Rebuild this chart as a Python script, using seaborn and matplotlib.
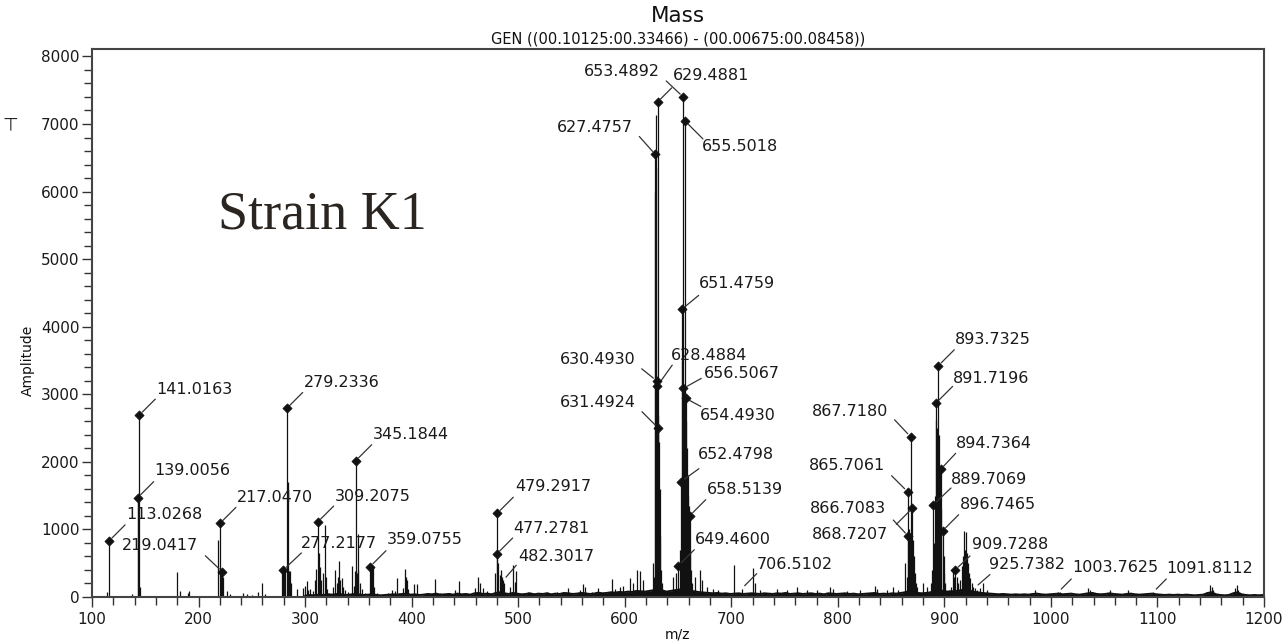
import matplotlib
matplotlib.use("Agg")
import matplotlib.pyplot as plt
from matplotlib.ticker import MultipleLocator
import numpy as np
import pandas as pd
import seaborn as sns

# ---------------- data ----------------
# annotated peaks: label text, axis position (m/z axis), amplitude, marker shown
label_text = ["113.0268", "139.0056", "141.0163", "217.0470", "219.0417", "277.2177",
              "279.2336", "309.2075", "345.1844", "359.0755", "477.2781", "479.2917",
              "482.3017", "627.4757", "653.4892", "630.4930", "628.4884", "631.4924",
              "649.4600", "652.4798", "651.4759", "629.4881", "656.5067", "655.5018",
              "654.4930", "658.5139", "706.5102", "865.7061", "868.7207", "867.7180",
              "866.7083", "889.7069", "891.7196", "893.7325", "894.7364", "896.7465",
              "909.7288", "925.7382", "1003.7625", "1091.8112"]
label_mz = [116.0, 142.9, 144.4, 220.1, 222.3, 279.6,
            282.7, 311.8, 347.5, 360.9, 479.8, 480.4,
            486.0, 628.7, 630.9, 630.0, 630.5, 631.2,
            650.3, 652.7, 653.4, 654.9, 654.9, 656.5,
            657.3, 661.0, 709.8, 865.5, 866.1, 868.3,
            869.9, 889.3, 891.8, 894.3, 896.5, 898.4,
            910.0, 928.7, 1006.9, 1096.1]
label_h = [830, 1470, 2692, 1090, 374, 400,
           2790, 1109, 2017, 448, 636, 1240,
           247, 6549, 7327, 3200, 3121, 2505,
           463, 1706, 4256, 7400, 3087, 7046,
           2939, 1203, 124, 1558, 902, 2371,
           1312, 1361, 2865, 3422, 1889, 981,
           400, 139, 74, 74]
label_marked = [True] * 12 + [False] + [True] * 13 + [False] + [True] * 10 + [False] * 3

# other (unlabelled) peaks
peak_mz = [113.8, 137.3, 143.5, 145.3, 179.5, 182.6, 189.8, 190.6, 218.0, 221.2, 223.0, 226.4,
           229.5, 242.0, 245.2, 249.9, 256.1, 259.2, 262.4, 278.2, 280.5, 281.4, 283.5, 284.2,
           285.0, 286.0, 287.0, 292.1, 298.3, 299.9, 301.5, 303.0, 304.6, 307.7, 309.5, 310.5,
           312.8, 314.0, 315.0, 317.1, 318.7, 319.6, 321.0, 326.0, 328.0, 329.6, 331.0, 331.8,
           333.0, 334.3, 335.5, 337.4, 340.0, 343.7, 345.9, 346.8, 348.5, 349.5, 350.0, 351.5,
           353.0, 356.0, 361.8, 362.5, 364.0, 365.0, 367.2, 378.2, 381.3, 384.4, 386.0, 388.0,
           392.3, 393.8, 394.6, 395.4, 397.0, 402.2, 404.7, 421.9, 426.6, 436.0, 440.7, 444.8,
           459.5, 462.7, 464.1, 467.3, 471.0, 478.5, 481.5, 482.5, 483.5, 484.5, 487.0, 492.3,
           495.4, 497.0, 497.9, 509.5, 514.2, 526.7, 536.1, 547.1, 558.0, 560.5, 562.7, 568.9,
           575.1, 587.7, 590.9, 595.6, 598.7, 605.0, 608.0, 611.8, 614.3, 617.5, 626.9, 627.8,
           628.2, 629.2, 629.6, 631.6, 632.2, 632.8, 633.5, 634.2, 635.0, 645.6, 648.1, 651.9,
           653.9, 654.4, 655.5, 656.0, 657.8, 658.4, 659.0, 659.6, 660.2, 661.7, 662.5, 663.5,
           666.0, 670.7, 672.3, 677.0, 683.2, 687.9, 703.0, 720.6, 722.2, 726.9, 742.6, 752.0,
           761.4, 770.8, 780.2, 792.6, 795.8, 808.3, 820.8, 834.9, 836.5, 845.8, 852.0, 856.8,
           863.1, 864.5, 866.8, 867.5, 869.0, 870.6, 871.3, 872.0, 873.0, 874.0, 880.2, 883.3,
           887.5, 888.5, 890.2, 891.0, 892.5, 893.2, 895.0, 895.8, 897.3, 899.2, 900.1, 901.0,
           904.0, 906.5, 908.4, 909.3, 911.6, 913.0, 914.6, 916.3, 917.5, 918.4, 919.3, 920.3,
           921.5, 922.5, 923.5, 924.5, 925.5, 927.0, 931.0, 933.4, 936.5, 939.6, 985.0, 1008.5,
           1035.0, 1037.0, 1055.4, 1072.6, 1089.8, 1149.3, 1150.8, 1152.0, 1172.7, 1174.3, 1176.0]
peak_h = [70, 40, 1400, 150, 375, 85, 60, 85, 840, 380, 300, 84,
          50, 60, 45, 30, 80, 213, 50, 380, 450, 420, 420, 1700,
          380, 380, 200, 120, 130, 160, 230, 100, 120, 90, 250, 420,
          650, 440, 250, 350, 1060, 300, 120, 150, 395, 200, 300, 540,
          250, 280, 150, 100, 80, 460, 170, 380, 360, 400, 930, 212,
          120, 60, 440, 420, 440, 150, 60, 60, 100, 90, 280, 60,
          130, 415, 300, 250, 120, 190, 190, 265, 60, 60, 100, 230,
          130, 300, 200, 130, 90, 350, 500, 330, 400, 300, 200, 150,
          480, 220, 380, 80, 60, 70, 70, 135, 100, 190, 150, 80,
          130, 265, 120, 150, 160, 280, 200, 405, 380, 250, 500, 300,
          6000, 7130, 6357, 2700, 2300, 1600, 900, 400, 200, 300, 350, 700,
          3500, 3000, 3087, 3000, 2600, 2200, 1800, 1500, 1350, 700, 400, 200,
          290, 400, 250, 150, 120, 100, 470, 430, 200, 100, 120, 110,
          150, 100, 110, 150, 120, 90, 110, 160, 120, 100, 150, 100,
          500, 300, 1000, 950, 900, 850, 600, 350, 200, 150, 207, 150,
          200, 400, 800, 1500, 2620, 2500, 2400, 1930, 1300, 600, 350, 200,
          100, 150, 400, 300, 300, 200, 250, 455, 600, 972, 700, 960,
          650, 500, 350, 280, 200, 150, 100, 130, 210, 100, 100, 80,
          133, 100, 110, 110, 60, 173, 150, 100, 140, 173, 100]

# baseline noise profile
noise_mz = [300, 304, 308, 313, 317, 322, 326, 330, 334, 338, 342, 346, 350, 355, 359, 363,
            367, 371, 375, 379, 383, 387, 391, 395, 399, 403, 407, 411, 415, 419, 423, 427,
            431, 435, 439, 443, 447, 451, 455, 459, 463, 467, 471, 475, 479, 483, 487, 491,
            495, 499, 503, 507, 511, 515, 519, 523, 527, 531, 535, 539, 543, 547, 551, 555,
            559, 563, 567, 571, 575, 579, 583, 587, 591, 595, 599, 603, 607, 611, 615, 619,
            623, 627, 631, 635, 639, 643, 647, 651, 655, 659, 663, 667, 671, 675, 679, 683,
            687, 691, 695, 699, 703, 707, 711, 715, 719, 723, 727, 731, 735, 739, 743, 747,
            751, 755, 759, 763, 767, 771, 775, 779, 783, 787, 791, 795, 799, 803, 807, 811,
            815, 819, 823, 827, 831, 835, 839, 843, 847, 851, 855, 859, 863, 867, 871, 875,
            879, 883, 887, 891, 895, 899, 903, 907, 911, 915, 919, 923, 927, 931, 935, 939,
            943, 947, 951, 955, 959, 963, 967, 971, 975, 979, 983, 987, 991, 995, 999, 1003,
            1007, 1011, 1015, 1019, 1023, 1027, 1031, 1035, 1039, 1043, 1047, 1051, 1055, 1059, 1063, 1067,
            1071, 1075, 1079, 1083, 1087, 1091, 1095, 1099, 1103, 1107, 1111, 1115, 1119, 1123, 1127, 1131,
            1135, 1139, 1143, 1147, 1151, 1155, 1159, 1163, 1167, 1171, 1175, 1179, 1183, 1187, 1191, 1195,
            1199]
noise_h = [20, 30, 25, 35, 30, 40, 35, 45, 40, 30, 35, 45, 40, 30, 35, 40,
           30, 25, 30, 35, 40, 35, 45, 50, 35, 40, 30, 35, 45, 40, 50, 35,
           40, 45, 35, 50, 40, 45, 35, 55, 60, 45, 50, 40, 60, 70, 55, 45,
           60, 50, 40, 45, 55, 40, 50, 45, 55, 40, 50, 45, 60, 55, 45, 50,
           60, 55, 45, 50, 65, 55, 60, 70, 65, 75, 70, 80, 75, 90, 85, 80,
           90, 100, 110, 100, 80, 90, 100, 110, 120, 110, 90, 80, 70, 65, 60, 55,
           60, 50, 55, 45, 50, 55, 45, 50, 55, 50, 45, 55, 50, 45, 55, 50,
           60, 45, 50, 55, 45, 50, 55, 45, 50, 40, 55, 50, 45, 50, 55, 45,
           50, 40, 45, 50, 55, 60, 45, 50, 45, 55, 50, 60, 70, 90, 80, 60,
           55, 60, 70, 90, 100, 90, 80, 85, 90, 100, 110, 100, 80, 70, 60, 55,
           50, 45, 40, 45, 40, 35, 40, 35, 40, 35, 45, 50, 40, 35, 40, 45,
           50, 40, 45, 50, 40, 35, 45, 55, 60, 45, 40, 45, 55, 45, 40, 35,
           45, 50, 40, 35, 40, 45, 50, 40, 35, 30, 35, 30, 35, 30, 35, 30,
           25, 30, 35, 60, 70, 40, 30, 25, 30, 55, 70, 40, 30, 25, 30, 25,
           30]

title = "Mass"
subtitle = "GEN ((00.10125:00.33466) - (00.00675:00.08458))"

# ---------------- layout (pixel offsets of leader end / text) ----------------
default_layout = (16, 16, 17, 26, "left")
layout = {
    "139.0056": (16, 16, 17, 27, "left"),
    "219.0417": (-17, 16, -24, 26, "right"),
    "277.2177": (18, 17, 18, 26, "left"),
    "359.0755": (16, 16, 17, 27, "left"),
    "479.2917": (16, 16, 18, 27, "left"),
    "482.3017": (13, 15, 15, 24, "left"),
    "627.4757": (-16, 18, -22, 27, "right"),
    "653.4892": (14, 14, 2, 30, "right"),
    "629.4881": (-17, 16, -10, 21, "left"),
    "655.5018": (18, -18, 17, -26, "left"),
    "630.4930": (-15, 12, -21, 21, "right"),
    "628.4884": (15, 21, 14, 31, "left"),
    "656.5067": (18, 10, 21, 15, "left"),
    "654.4930": (15, -8, 14, -17, "left"),
    "631.4924": (-16, 16, -22, 25, "right"),
    "651.4759": (17, 14, 17, 26, "left"),
    "652.4798": (18, 13, 17, 27, "left"),
    "706.5102": (15, 15, 15, 24, "left"),
    "867.7180": (-16, 17, -22, 25, "right"),
    "865.7061": (-16, 16, -22, 26, "right"),
    "866.7083": (-16, -16, -26, 0, "right"),
    "868.7207": (-15, 16, -20, 2, "right"),
    "891.7196": (17, 17, 17, 25, "left"),
    "894.7364": (15, 16, 15, 26, "left"),
    "889.7069": (18, 17, 18, 26, "left"),
    "909.7288": (15, 14, 17, 25, "left"),
    "925.7382": (15, 13, 14, 23, "left"),
    "1003.7625": (13, 13, 14, 24, "left"),
    "1091.8112": (13, 13, 13, 23, "left"),
}

# ---------------- drawing ----------------
sns.set_style("ticks")
plt.rcParams["font.family"] = ["DejaVu Sans"]

W, H = 1286, 644
fig = plt.figure(figsize=(W / 100, H / 100), dpi=100)
ax = fig.add_axes([92 / W, 1 - 597 / H, (1264 - 92) / W, (597 - 49) / H])

ink = "#111111"

# baseline noise band
ax.fill_between(noise_mz, 0, noise_h, color=ink, lw=0)
sns.lineplot(x=noise_mz, y=noise_h, ax=ax, color=ink, lw=1.4, estimator=None)

# sticks
ax.vlines(peak_mz, 0, peak_h, color=ink, lw=0.9)
ax.vlines(label_mz, 0, label_h, color=ink, lw=0.9)

# markers
lab_df = pd.DataFrame({"mz": label_mz, "h": label_h, "marked": label_marked})
mk = lab_df[lab_df["marked"]]
sns.scatterplot(data=mk, x="mz", y="h", marker="D", s=22, color=ink,
                edgecolor=ink, linewidth=0.5, ax=ax, zorder=5)

# annotations
for txt, mz, h in zip(label_text, label_mz, label_h):
    lx, ly, tx, ty, ha = layout.get(txt, default_layout)
    ax.annotate("", xy=(mz, h), xytext=(lx, ly), textcoords="offset pixels",
                arrowprops=dict(arrowstyle="-", color="#333333", lw=0.9,
                                shrinkA=0, shrinkB=3))
    ax.annotate(txt, xy=(mz, h), xytext=(tx, ty), textcoords="offset pixels",
                ha=ha, va="center", fontsize=11.5, color="#1a1a1a")

# axes styling
ax.set_xlim(100, 1200)
ax.set_ylim(0, 8110)
ax.xaxis.set_major_locator(MultipleLocator(100))
ax.xaxis.set_minor_locator(MultipleLocator(20))
ax.yaxis.set_major_locator(MultipleLocator(1000))
ax.yaxis.set_minor_locator(MultipleLocator(200))
ax.tick_params(axis="both", which="major", direction="out", length=7, width=1,
               color="#333333", labelsize=11, labelcolor="#1a1a1a")
ax.tick_params(axis="both", which="minor", direction="out", length=6, width=1,
               color="#333333")
ax.tick_params(axis="y", which="major", pad=2)
ax.tick_params(axis="x", which="major", pad=4)
for sp in ax.spines.values():
    sp.set_visible(True)
    sp.set_color("#444444")
    sp.set_linewidth(1.5)
ax.set_xlabel("")
ax.set_ylabel("")

# texts
fig.text(678 / W, 1 - 16 / H, title, ha="center", va="center", fontsize=15.5, color="#111111")
fig.text(678 / W, 1 - 39 / H, subtitle, ha="center", va="center", fontsize=10.5, color="#111111")
fig.text(678 / W, 1 - 634 / H, "m/z", ha="center", va="center", fontsize=10, color="#111111")
fig.text(28 / W, 1 - 360 / H, "Amplitude", ha="center", va="center", rotation=90,
         fontsize=10, color="#111111")
fig.text(10 / W, 1 - 125 / H, "\u22a4", ha="center", va="center", fontsize=13, color="#222222")
fig.text(218 / W, 1 - 215 / H, "Strain K1", ha="left", va="center", fontsize=39,
         family=["Liberation Serif", "DejaVu Serif"], color="#2a2520")

fig.savefig("out.png", dpi=100)
